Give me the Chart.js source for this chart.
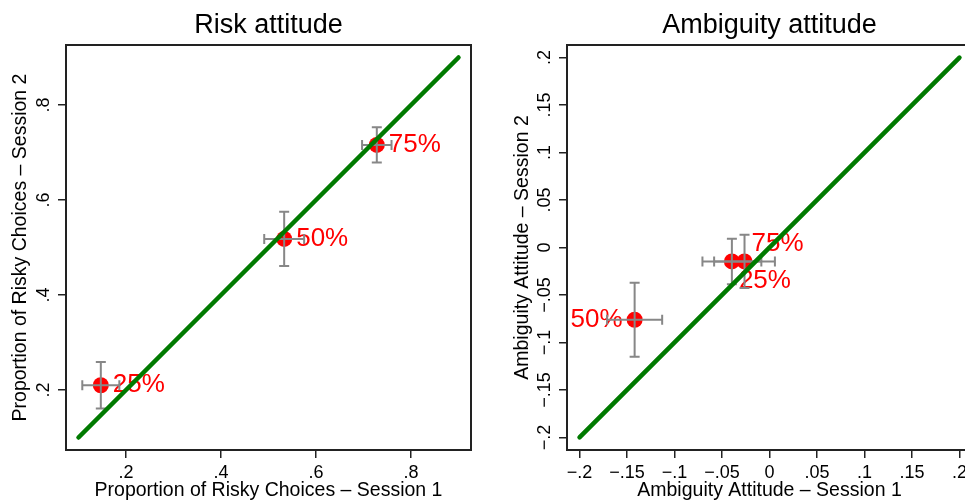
<!DOCTYPE html>
<html>
<head>
<meta charset="utf-8">
<script src="https://cdn.jsdelivr.net/npm/chart.js@4/dist/chart.umd.min.js"></script>
<style>
  html, body { margin: 0; padding: 0; background: #fff; overflow: hidden; width: 965px; height: 502px; }
  #risk { position: absolute; left: 0; top: 0; }
  #amb { position: absolute; left: 482px; top: 0; }
</style>
</head>
<body>
<canvas id="risk" width="472" height="502"></canvas>
<canvas id="amb" width="490" height="502"></canvas>
<script>
// Risk attitude panel
const riskLabels = ['25%', '50%', '75%'];
const riskSession1 = [0.147, 0.533, 0.728];
const riskSession2 = [0.210, 0.518, 0.716];
const riskErr1 = [0.039, 0.042, 0.031];
const riskErr2 = [0.049, 0.057, 0.037];
const riskTicks = [0.2, 0.4, 0.6, 0.8];
const riskTickLabels = ['.2', '.4', '.6', '.8'];
const riskDiagonal = [0.1, 0.9];

// Ambiguity attitude panel
const ambLabels = ['25%', '50%', '75%'];
const ambSession1 = [-0.0396, -0.142, -0.0263];
const ambSession2 = [-0.0147, -0.0761, -0.0147];
const ambErr1 = [0.031, 0.029, 0.032];
const ambErr2 = [0.024, 0.039, 0.028];
const ambTicks = [-0.2, -0.15, -0.1, -0.05, 0, 0.05, 0.1, 0.15, 0.2];
const ambTickLabels = ['\u2212.2', '\u2212.15', '\u2212.1', '\u2212.05', '0', '.05', '.1', '.15', '.2'];
const ambDiagonal = [-0.2, 0.2];

const FONT = '"Liberation Sans", Arial, Helvetica, sans-serif';
Chart.defaults.font.family = FONT;
Chart.defaults.color = '#000';

// marker label placement, stata style clock positions
const labelOffsets = {
    2: { dx: 7, dy: -18, align: 'left' },
    3: { dx: 12, dy: 0, align: 'left' },
    4: { dx: 7, dy: 19, align: 'left' },
    9: { dx: -12, dy: 0, align: 'right' }
};

function panelPlugin(p) {
    return {
        id: 'panel',
        afterDatasetDraw(chart, args) {
            if (args.index !== 1) return;
            const ctx = chart.ctx;
            const xs = chart.scales.x, ys = chart.scales.y;
            ctx.save();
            ctx.font = '26px ' + FONT;
            ctx.fillStyle = '#ff0000';
            ctx.textBaseline = 'middle';
            p.s1.forEach(function (v, i) {
                const px = xs.getPixelForValue(v), py = ys.getPixelForValue(p.s2[i]);
                const o = labelOffsets[p.labelPos[i]];
                ctx.textAlign = o.align;
                ctx.fillText(p.labels[i], px + o.dx, py + o.dy);
            });
            // error bars
            const cap = 5;
            ctx.strokeStyle = '#878787';
            ctx.lineWidth = 2;
            p.s1.forEach(function (v, i) {
                const px = xs.getPixelForValue(v), py = ys.getPixelForValue(p.s2[i]);
                const x1 = xs.getPixelForValue(v - p.e1[i]), x2 = xs.getPixelForValue(v + p.e1[i]);
                const y1 = ys.getPixelForValue(p.s2[i] + p.e2[i]), y2 = ys.getPixelForValue(p.s2[i] - p.e2[i]);
                ctx.beginPath();
                ctx.moveTo(x1, py); ctx.lineTo(x2, py);
                ctx.moveTo(x1, py - cap); ctx.lineTo(x1, py + cap);
                ctx.moveTo(x2, py - cap); ctx.lineTo(x2, py + cap);
                ctx.moveTo(px, y1); ctx.lineTo(px, y2);
                ctx.moveTo(px - cap, y1); ctx.lineTo(px + cap, y1);
                ctx.moveTo(px - cap, y2); ctx.lineTo(px + cap, y2);
                ctx.stroke();
            });
            ctx.restore();
        },
        afterDraw(chart) {
            const ctx = chart.ctx;
            const a = chart.chartArea;
            const ys = chart.scales.y;
            ctx.save();
            ctx.strokeStyle = '#222';
            ctx.lineWidth = 2;
            ctx.strokeRect(a.left, a.top, a.right - a.left, a.bottom - a.top);
            // panel title
            ctx.fillStyle = '#000';
            ctx.font = '27px ' + FONT;
            ctx.textAlign = 'center';
            ctx.textBaseline = 'alphabetic';
            ctx.fillText(p.title, (a.left + a.right) / 2, 33);
            // rotated y tick labels
            ctx.font = '18px ' + FONT;
            ctx.textBaseline = 'middle';
            p.ticks.forEach(function (v, i) {
                ctx.save();
                ctx.translate(a.left - 22, ys.getPixelForValue(v));
                ctx.rotate(-Math.PI / 2);
                ctx.fillText(p.tickLabels[i], 0, 0);
                ctx.restore();
            });
            ctx.restore();
        }
    };
}

function axis(p, isX) {
    return {
        type: 'linear',
        min: p.min,
        max: p.max,
        afterBuildTicks: function (s) {
            s.ticks = p.ticks.map(function (v) { return { value: v }; });
        },
        afterFit: function (s) {
            if (isX) s.height = 52; else s.width = p.yWidth;
            s.paddingLeft = 0;
            s.paddingRight = 0;
            s.paddingTop = 0;
            s.paddingBottom = 0;
        },
        border: { display: false },
        grid: { drawOnChartArea: false, drawTicks: true, tickLength: 8, color: '#222', lineWidth: 1.5 },
        ticks: {
            display: isX,
            padding: 4,
            font: { size: 18 },
            color: '#000',
            callback: function (v, i) { return p.tickLabels[i]; }
        },
        title: {
            display: true,
            text: isX ? p.xTitle : p.yTitle,
            font: { size: 19.5 },
            color: '#000',
            padding: isX ? { top: 0, bottom: 0 } : { top: p.yTitlePad, bottom: 0 }
        }
    };
}

function makePanel(canvasId, p) {
    return new Chart(document.getElementById(canvasId), {
        type: 'scatter',
        data: {
            datasets: [{
                type: 'line',
                data: p.diagonal.map(function (v) { return { x: v, y: v }; }),
                borderColor: '#007a00',
                borderWidth: 4.5,
                borderCapStyle: 'round',
                pointRadius: 0,
                fill: false,
                order: 0
            }, {
                data: p.s1.map(function (v, i) { return { x: v, y: p.s2[i] }; }),
                backgroundColor: '#ff0000',
                borderWidth: 0,
                pointRadius: 8,
                order: 1
            }]
        },
        options: {
            responsive: false,
            animation: false,
            devicePixelRatio: 1,
            events: [],
            layout: { autoPadding: false, padding: { top: 45, right: p.padRight, left: 0, bottom: 0 } },
            plugins: { legend: { display: false }, tooltip: { enabled: false } },
            scales: { x: axis(p, true), y: axis(p, false) }
        },
        plugins: [panelPlugin(p)]
    });
}

makePanel('risk', {
    title: 'Risk attitude',
    xTitle: 'Proportion of Risky Choices \u2013 Session 1',
    yTitle: 'Proportion of Risky Choices \u2013 Session 2',
    labels: riskLabels, s1: riskSession1, s2: riskSession2, e1: riskErr1, e2: riskErr2,
    ticks: riskTicks, tickLabels: riskTickLabels, diagonal: riskDiagonal,
    labelPos: [3, 3, 3],
    min: 0.0737, max: 0.9263,
    yWidth: 66, yTitlePad: 9.3, padRight: 1
});

makePanel('amb', {
    title: 'Ambiguity attitude',
    xTitle: 'Ambiguity Attitude \u2013 Session 1',
    yTitle: 'Ambiguity Attitude \u2013 Session 2',
    labels: ambLabels, s1: ambSession1, s2: ambSession2, e1: ambErr1, e2: ambErr2,
    ticks: ambTicks, tickLabels: ambTickLabels, diagonal: ambDiagonal,
    labelPos: [4, 9, 2],
    min: -0.2132, max: 0.2132,
    yWidth: 85, yTitlePad: 28.8, padRight: 0
});
</script>
</body>
</html>
